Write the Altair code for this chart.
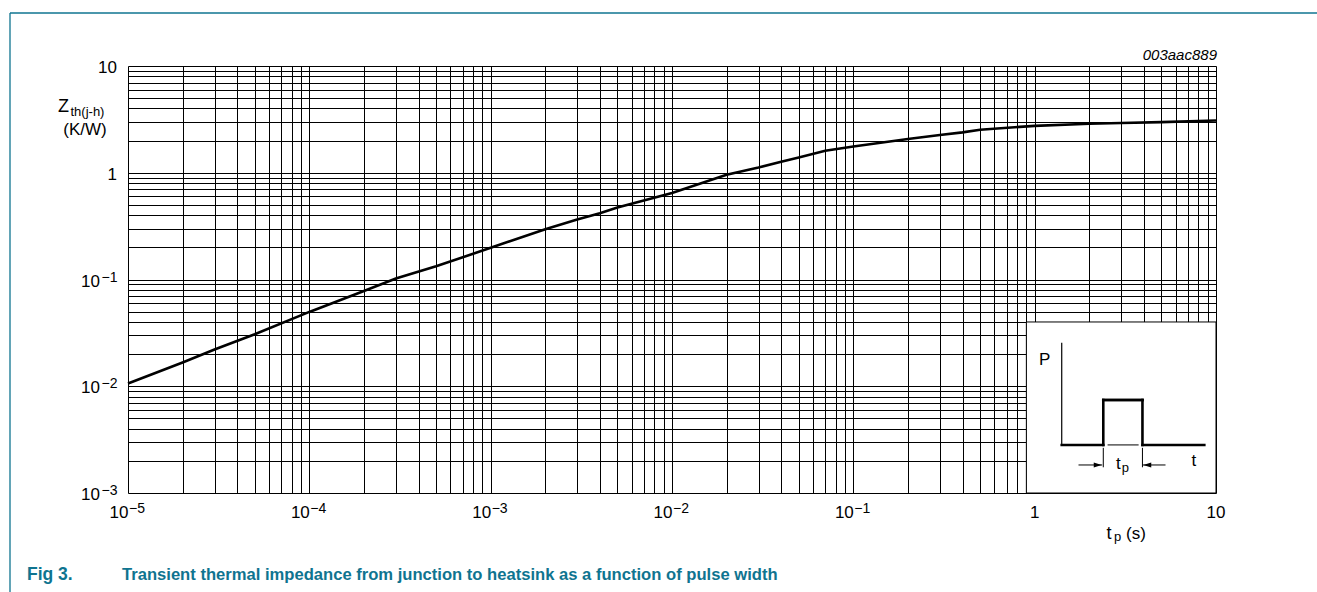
import altair as alt
import pandas as pd

# Transient thermal impedance Zth(j-h) (K/W) against pulse width tp (s)
pulse_width_s = [1e-5, 2e-5, 3e-5, 5e-5, 1e-4, 2e-4, 3e-4, 5e-4, 1e-3, 2e-3,
                 3e-3, 4e-3, 5e-3, 1e-2, 2e-2, 3e-2, 4e-2, 5e-2, 7e-2, 1e-1,
                 2e-1, 3e-1, 4e-1, 5e-1, 1, 2, 3, 5, 10]
zth_kw = [0.0106, 0.0167, 0.0221, 0.0307, 0.0497, 0.078, 0.102, 0.133, 0.198, 0.296,
          0.365, 0.418, 0.472, 0.645, 0.957, 1.12, 1.27, 1.39, 1.61, 1.76,
          2.07, 2.26, 2.39, 2.53, 2.75, 2.88, 2.92, 2.98, 3.09]

# Axis decades and their labels (base and superscript exponent)
x_decades = [1e-5, 1e-4, 1e-3, 1e-2, 1e-1, 1, 10]
x_label_base = ["10", "10", "10", "10", "10", "1", "10"]
x_label_exp = ["−5", "−4", "−3", "−2", "−1", "", ""]
y_decades = [1e-3, 1e-2, 1e-1, 1, 10]
y_label_base = ["10", "10", "10", "1", "10"]
y_label_exp = ["−3", "−2", "−1", "", ""]
mantissas = [1, 2, 3, 4, 5, 6, 7, 8, 9]

# Pulse sketch in the lower right corner (data units of the chart)
inset_box_t = [0.9, 10]
inset_box_z = [0.001, 0.04]
seg_t1 = [1.41, 1.41, 2.39, 2.39, 2.39, 3.93, 3.93, 2.54, 2.39, 3.93, 1.756, 5.235]
seg_t2 = [1.41, 2.39, 2.39, 3.93, 3.93, 3.93, 8.62, 3.72, 2.39, 3.93, 2.343, 3.97]
seg_z1 = [0.00282, 0.00282, 0.00282, 0.00743, 0.00743, 0.00743, 0.00282, 0.00282,
          0.00262, 0.00262, 0.00183, 0.00183]
seg_z2 = [0.02525, 0.00282, 0.00743, 0.00743, 0.00743, 0.00282, 0.00282, 0.00282,
          0.00176, 0.00176, 0.00183, 0.00183]
seg_w = [1.2, 2.6, 2.6, 2.6, 2.6, 2.6, 2.6, 1, 1, 1, 1, 1]
arrow_t = [2.343, 3.97]
arrow_z = [0.00183, 0.00183]
arrow_shape = ["M -1 -0.3 L 0 0 L -1 0.3 Z", "M 1 -0.3 L 0 0 L 1 0.3 Z"]
sketch_text = ["P", "t", "t", "p"]
sketch_text_t = [1.057, 7.33, 2.81, 3.02]
sketch_text_z = [0.0158, 0.00179, 0.00168, 0.00156]
sketch_text_size = [17, 17, 17, 13]

FONT = "Liberation Sans"
TEAL = "#0f7490"
LABEL_SIZE = 17
EXP_SIZE = 14
LEFT, TOP = 128, 66          # plot-area origin inside the page
PLOT_W, PLOT_H = 1088, 427


def grid_values(decades):
    return [m * d for d in decades[:-1] for m in mantissas] + [decades[-1]]


x_scale = alt.Scale(type="log", domain=[x_decades[0], x_decades[-1]], nice=False)
y_scale = alt.Scale(type="log", domain=[y_decades[0], y_decades[-1]], nice=False)

common_axis = dict(
    grid=True, gridColor="black", gridWidth=1, gridOpacity=1,
    ticks=False, domain=False, title=None, labels=False,
)
x_axis = alt.Axis(values=grid_values(x_decades), **common_axis)
y_axis = alt.Axis(values=grid_values(y_decades), **common_axis)


def X(field):
    return alt.X(field, type="quantitative", scale=x_scale, axis=x_axis)


def Y(field):
    return alt.Y(field, type="quantitative", scale=y_scale, axis=y_axis)


curve_df = pd.DataFrame({"tp": pulse_width_s, "zth": zth_kw})
curve = alt.Chart(curve_df).mark_line(color="black", strokeWidth=2.6).encode(
    x=X("tp"), y=Y("zth"),
)

# Tick labels: "10" with a raised exponent, drawn at each decade
xl = pd.DataFrame({"tp": x_decades, "zth": y_decades[0],
                   "base": x_label_base, "exp": x_label_exp})
yl = pd.DataFrame({"tp": x_decades[0], "zth": y_decades,
                   "base": y_label_base, "exp": y_label_exp})


def tick_text(df, text_field, size, align, dx, dy, keep):
    return alt.Chart(df).transform_filter(keep).mark_text(
        font=FONT, fontSize=size, align=align, baseline="alphabetic",
        color="black", dx=dx, dy=dy,
    ).encode(x=X("tp"), y=Y("zth"), text=alt.Text(f"{text_field}:N"))


has_exp = "datum.exp != ''"
no_exp = "datum.exp == ''"
tick_labels = [
    tick_text(xl, "base", LABEL_SIZE, "right", 0.5, 25, has_exp),
    tick_text(xl, "exp", EXP_SIZE, "left", 1, 20, has_exp),
    tick_text(xl, "base", LABEL_SIZE, "center", 0, 25, no_exp),
    tick_text(yl, "base", LABEL_SIZE, "right", -28, 7, has_exp),
    tick_text(yl, "exp", EXP_SIZE, "right", -10.5, 2, has_exp),
    tick_text(yl, "base", LABEL_SIZE, "right", -11, 7, no_exp),
]

box_df = pd.DataFrame({"tp": [inset_box_t[0]], "t2": [inset_box_t[1]],
                       "zth": [inset_box_z[0]], "z2": [inset_box_z[1]]})
box = alt.Chart(box_df).mark_rect(fill="white", stroke="black", strokeWidth=1).encode(
    x=X("tp"), x2="t2:Q", y=Y("zth"), y2="z2:Q",
)

seg_df = pd.DataFrame({"tp": seg_t1, "t2": seg_t2, "zth": seg_z1, "z2": seg_z2, "w": seg_w})
segments = alt.Chart(seg_df).mark_rule(color="black", strokeCap="square").encode(
    x=X("tp"), x2="t2:Q", y=Y("zth"), y2="z2:Q",
    strokeWidth=alt.StrokeWidth("w:Q", scale=None, legend=None),
)

arrow_df = pd.DataFrame({"tp": arrow_t, "zth": arrow_z, "shape": arrow_shape})
arrows = alt.Chart(arrow_df).mark_point(filled=True, color="black", opacity=1, size=256).encode(
    x=X("tp"), y=Y("zth"),
    shape=alt.Shape("shape:N", scale=None, legend=None),
)

sketch_df = pd.DataFrame({"s": sketch_text, "tp": sketch_text_t, "zth": sketch_text_z,
                          "size": sketch_text_size})
sketch_labels = alt.Chart(sketch_df).mark_text(
    font=FONT, color="black", align="left", baseline="alphabetic").encode(
    x=X("tp"), y=Y("zth"),
    text="s:N",
    size=alt.Size("size:Q", scale=None, legend=None),
)


def page_text(text, px, py, size=17, align="left", **style):
    """Text placed at a page position (px, py), baseline alphabetic."""
    return alt.Chart(pd.DataFrame({"s": [text]})).mark_text(
        text=text, font=FONT, fontSize=size, align=align, baseline="alphabetic",
        color=style.pop("color", "black"), **style,
    ).encode(x=alt.value(px - LEFT), y=alt.value(py - TOP))


annotations = [
    page_text("003aac889", 1217, 60, size=15, align="right", fontStyle="italic"),
    page_text("Z", 58, 111.7, size=18),
    page_text("th(j-h)", 70.5, 116, size=13),
    page_text("(K/W)", 85, 135, size=17, align="center"),
    page_text("t", 1106.5, 538.5, size=18),
    page_text("p", 1114, 541, size=13),
    page_text("(s)", 1126, 538.5, size=17),
    page_text("Fig 3.", 27, 580, size=17.5, fontWeight="bold", color=TEAL),
    page_text("Transient thermal impedance from junction to heatsink as a function of pulse width",
              122, 580, size=16.6, fontWeight="bold", color=TEAL),
]

frame_df = pd.DataFrame({"k": [0]})
frame_left = alt.Chart(frame_df).mark_rule(color=TEAL, strokeWidth=1.3).encode(
    x=alt.value(10 - LEFT), y=alt.value(13 - TOP), y2=alt.value(592 - TOP))
frame_top = alt.Chart(frame_df).mark_rule(color=TEAL, strokeWidth=1.3).encode(
    x=alt.value(10 - LEFT), x2=alt.value(1317 - LEFT), y=alt.value(13 - TOP))

chart = alt.layer(
    curve, *tick_labels, box, segments, arrows, sketch_labels, *annotations,
    frame_left, frame_top,
).properties(
    width=PLOT_W, height=PLOT_H,
    autosize=alt.AutoSizeParams(type="none"),
    padding={"left": LEFT, "top": TOP, "right": 1317 - LEFT - PLOT_W, "bottom": 592 - TOP - PLOT_H},
).configure_view(stroke=None).configure(background="white")

chart.save("out.html", embed_options={"renderer": "svg", "actions": False})
